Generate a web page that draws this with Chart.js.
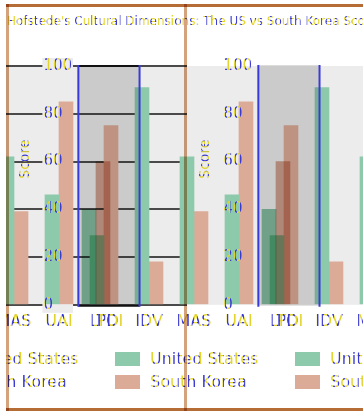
<!DOCTYPE html>
<html>
<head>
<meta charset="utf-8">
<script src="https://cdn.jsdelivr.net/npm/chart.js@4.4.1/dist/chart.umd.min.js"></script>
<style>
  html, body { margin: 0; padding: 0; background: #fff; }
  #stage { position: relative; width: 363px; height: 412px; overflow: hidden; background: #fff; }
  #plot { position: absolute; left: 0; top: 0; width: 363px; height: 412px; }
  #margin { position: absolute; left: 0; top: 0; width: 6px; height: 412px; background: #fff; }
  .ink {
    background: repeating-linear-gradient(90deg, #e2d42c 0 3px, #3a3ad2 3px 5px);
    -webkit-background-clip: text; background-clip: text; color: transparent;
  }
  #title { position: absolute; left: 7px; top: 13px; white-space: nowrap;
           font: 12px "DejaVu Sans"; line-height: 16px; }
  .lrow { position: absolute; left: -65px; height: 16px; display: flex; white-space: nowrap; }
  .litem { width: 180px; flex: none; display: flex; align-items: center; }
  .sw { width: 25px; height: 14px; flex: none; margin-right: 10px; }
  .ltxt { font: 16px "DejaVu Sans"; line-height: 16px; }
  .rule { position: absolute; mix-blend-mode: multiply; }
</style>
</head>
<body>
<div id="stage">
  <div id="plot"><canvas id="chart"></canvas></div>
  <div id="title" class="ink">Hofstede's Cultural Dimensions: The US vs South Korea Scores</div>
  <div id="legend"></div>
  <div id="margin"></div>
  <div class="rule" style="left:6px;top:4px;width:357px;height:3px;background:#b56d35"></div>
  <div class="rule" style="left:6px;top:408px;width:357px;height:3px;background:#b56d35"></div>
  <div class="rule" style="left:6px;top:4px;width:3px;height:407px;background:#d4a27c"></div>
  <div class="rule" style="left:184px;top:4px;width:3px;height:407px;background:#d4a27c"></div>
</div>
<script>
// Hofstede dimension scores, laid out column by column as they run across the strip
const categories = ['MAS', 'UAI', 'LTO', 'IDV', 'MAS', 'UAI', 'LTO', 'IDV', 'MAS'];
const usScores   = [62, 46, 29, 91, 62, 46, 29, 91, 62];
const krScores   = [39, 85, 75, 18, 39, 85, 75, 18, 39];

// Power distance column that sits over the LTO column
const pdiLabels  = ['', '', 'PDI', '', '', '', 'PDI', '', ''];
const pdiUs      = [null, null, 40, null, null, null, 40, null, null];
const pdiKr      = [null, null, 60, null, null, null, 60, null, null];

const seriesNames = ['United States', 'South Korea'];
const yTickValues = [0, 20, 40, 60, 80, 100];

// ---- styling ----
const US_COLOR = '#8ccaab';
const KR_COLOR = '#dcab97';
const PLOT_BG = '#ececec';
const X_MIN = -0.178, X_MAX = 7.756;   // 45px per column
const X2_SHIFT = 0.133;                // the PDI column sits ~6px right of LTO
const AXIS_SPOTS = [1.289, 5.289];     // where the two score axes are drawn
const FONT = 'DejaVu Sans';

function stripeInk() {
  const c = document.createElement('canvas');
  c.width = 5; c.height = 1;
  const g = c.getContext('2d');
  g.fillStyle = '#e2d42c'; g.fillRect(0, 0, 5, 1);
  g.fillStyle = '#3a3ad2'; g.fillRect(3, 0, 2, 1);
  return g.createPattern(c, 'repeat');
}
const ink = stripeInk();

let gridGrad = null;
function gridInk(c) {
  const chart = c.chart;
  if (!chart.chartArea) return '#4a4a4a';
  if (!gridGrad) {
    gridGrad = chart.ctx.createLinearGradient(0, 0, chart.width, 0);
    const cut = 187 / chart.width;
    gridGrad.addColorStop(0, '#4a4a4a');
    gridGrad.addColorStop(cut, '#4a4a4a');
    gridGrad.addColorStop(cut + 0.001, 'rgba(0,0,0,0)');
    gridGrad.addColorStop(1, 'rgba(0,0,0,0)');
  }
  return gridGrad;
}

const points = arr => arr.map((v, i) => ({x: i, y: v})).filter(p => p.y !== null);
// figure spaces keep the score column flush on its left side
const padTick = v => String(v).padEnd(3, '\u2007');

const plotBg = {
  id: 'plotBg',
  beforeDraw(chart) {
    const {ctx, chartArea: a} = chart;
    ctx.save();
    ctx.fillStyle = PLOT_BG;
    ctx.fillRect(a.left, a.top, a.right - a.left, a.bottom - a.top);
    ctx.restore();
  }
};

// clears the grid behind the left score labels
const labelGaps = {
  id: 'labelGaps',
  beforeDatasetsDraw(chart) {
    const sc = chart.scales.y;
    const {ctx} = chart;
    ctx.save();
    ctx.font = `15px "${FONT}"`;
    ctx.fillStyle = PLOT_BG;
    for (const item of sc.getLabelItems()) {
      const [x, y] = item.options.translation;
      const w = ctx.measureText(item.label).width;
      const left = item.options.textAlign === 'right' ? x - w : x;
      ctx.fillRect(left - 1, y - 8, w + 2, 16);
    }
    ctx.restore();
  }
};

// the PDI bars are blended onto whatever is below them
const overlayBlend = {
  id: 'overlayBlend',
  beforeDatasetDraw(chart, args) {
    if (chart.data.datasets[args.index].blend) {
      chart.ctx.save();
      chart.ctx.globalCompositeOperation = 'multiply';
    }
  },
  afterDatasetDraw(chart, args) {
    if (chart.data.datasets[args.index].blend) chart.ctx.restore();
  }
};

// shaded band over each LTO / PDI column
const columnBand = {
  id: 'columnBand',
  afterDatasetsDraw(chart) {
    const {ctx, chartArea: a, scales: {x}} = chart;
    let n = 0;
    pdiLabels.forEach((lab, i) => {
      if (!lab) return;
      const l = x.getPixelForValue(i - 0.57);
      const r = x.getPixelForValue(i + 0.79);
      ctx.save();
      ctx.globalCompositeOperation = 'multiply';
      ctx.fillStyle = '#dcdcdc';
      ctx.fillRect(l, a.top - 1, r - l, a.bottom - a.top + 2);
      ctx.restore();
      ctx.save();
      if (n === 0) {
        ctx.strokeStyle = '#111';
        ctx.lineWidth = 2;
        ctx.beginPath();
        ctx.moveTo(l, a.top); ctx.lineTo(r, a.top);
        ctx.moveTo(l, a.bottom + 1); ctx.lineTo(r, a.bottom + 1);
        ctx.stroke();
      }
      ctx.strokeStyle = '#3a3ad8';
      ctx.lineWidth = 2;
      ctx.beginPath();
      ctx.moveTo(l, a.top - 1); ctx.lineTo(l, a.bottom + 2);
      ctx.moveTo(r, a.top - 1); ctx.lineTo(r, a.bottom + 2);
      ctx.stroke();
      ctx.restore();
      n++;
    });
  }
};

// PDI column labels and the rotated axis titles
const extraText = {
  id: 'extraText',
  afterDraw(chart) {
    const {ctx, scales: {x, x2, y}} = chart;
    const first = x.getLabelItems()[0];
    const labelY = first.options.translation[1] + (first.textOffset || 0);
    ctx.save();
    ctx.fillStyle = ink;
    ctx.font = `16px "${FONT}"`;
    ctx.textAlign = 'center';
    ctx.textBaseline = first.options.textBaseline || 'middle';
    pdiLabels.forEach((lab, i) => {
      if (lab) {
        ctx.save();
        ctx.translate(x2.getPixelForValue(i), labelY);
        ctx.fillText(lab, 0, 0);
        ctx.restore();
      }
    });
    ctx.font = `14px "${FONT}"`;
    ctx.textBaseline = 'middle';
    AXIS_SPOTS.forEach(spot => {
      ctx.save();
      ctx.translate(x.getPixelForValue(spot) - 47, y.getPixelForValue(61));
      ctx.rotate(-Math.PI / 2);
      ctx.fillText('Score', 0, 0);
      ctx.restore();
    });
    ctx.restore();
  }
};

// legend rows, one per country, repeating along the strip
const stripLegend = {
  id: 'stripLegend',
  afterUpdate(chart) {
    const box = document.getElementById('legend');
    box.innerHTML = '';
    const main = chart.data.datasets.filter(d => !d.blend);
    main.forEach((ds, r) => {
      const row = document.createElement('div');
      row.className = 'lrow';
      row.style.top = (351 + r * 23) + 'px';
      for (let k = 0; k < 3; k++) {
        const item = document.createElement('div');
        item.className = 'litem';
        const sw = document.createElement('span');
        sw.className = 'sw';
        sw.style.background = ds.backgroundColor;
        const t = document.createElement('span');
        t.className = 'ltxt ink';
        t.textContent = ds.label;
        item.appendChild(sw); item.appendChild(t);
        row.appendChild(item);
      }
      box.appendChild(row);
    });
  }
};

const tickFont = size => ({family: FONT, size});

const scoreAxis = (spot, withGrid) => ({
  type: 'linear', min: 0, max: 100,
  position: {x: spot},
  afterBuildTicks: s => { s.ticks = yTickValues.map(v => ({value: v})); },
  border: {display: false},
  grid: withGrid ? {color: gridInk, lineWidth: 2, drawTicks: false} : {display: false, drawTicks: false},
  ticks: {mirror: true, padding: 0, z: 1, font: tickFont(15), color: ink, callback: v => padTick(v)}
});

// labels may run past the strip's ends; keep the plot full width
const noEdgePadding = s => { s.paddingLeft = 0; s.paddingRight = 0; };

new Chart(document.getElementById('chart'), {
  type: 'bar',
  data: {
    datasets: [
      {label: seriesNames[0], data: points(pdiUs), xAxisID: 'x2', backgroundColor: US_COLOR, order: 0, blend: true},
      {label: seriesNames[1], data: points(pdiKr), xAxisID: 'x2', backgroundColor: KR_COLOR, order: 0, blend: true},
      {label: seriesNames[0], data: points(usScores), xAxisID: 'x', backgroundColor: US_COLOR, order: 1},
      {label: seriesNames[1], data: points(krScores), xAxisID: 'x', backgroundColor: KR_COLOR, order: 1}
    ]
  },
  options: {
    responsive: true,
    maintainAspectRatio: false,
    animation: false,
    layout: {padding: {left: 6, right: 0, top: 66, bottom: 82}},
    datasets: {bar: {barThickness: 14, skipNull: true}},
    plugins: {legend: {display: false}, title: {display: false}, tooltip: {enabled: false}},
    scales: {
      x: {
        type: 'linear', min: X_MIN, max: X_MAX, offset: false,
        grid: {display: false}, border: {display: false},
        afterBuildTicks: s => { s.ticks = categories.map((_, i) => ({value: i})); },
        afterFit: noEdgePadding,
        ticks: {autoSkip: false, maxRotation: 0, padding: -1, z: 1, font: tickFont(16), color: ink,
                callback: v => categories[v] ?? ''}
      },
      x2: {type: 'linear', display: false, offset: false, min: X_MIN - X2_SHIFT, max: X_MAX - X2_SHIFT},
      y: scoreAxis(AXIS_SPOTS[0], true),
      y2: scoreAxis(AXIS_SPOTS[1], false)
    }
  },
  plugins: [plotBg, labelGaps, overlayBlend, columnBand, extraText, stripLegend]
});
</script>
</body>
</html>
